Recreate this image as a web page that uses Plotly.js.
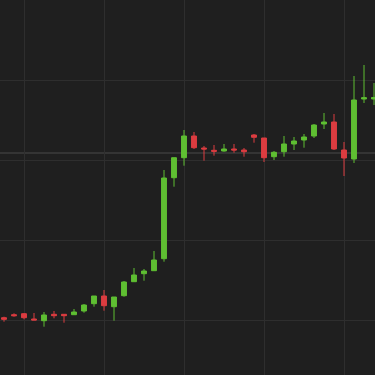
<!DOCTYPE html>
<html>
<head>
<meta charset="utf-8">
<script src="https://cdn.plot.ly/plotly-3.0.1.min.js"></script>
<style>
html,body{margin:0;padding:0;background:#1f1f1f;}
#chart{width:375px;height:375px;}
</style>
</head>
<body>
<div id="chart"></div>
<script>
var idx = [];
for (var i = 0; i < 38; i++) idx.push(i);
var open  = [82.3,85.3,86.3,81,79.3,85.7,85.7,85.3,89,96.3,104,93.3,104.3,118.3,126.3,129.3,141.3,222.3,242.3,264,252,249.7,249,251,250,265,262,243.3,248.3,256,260,264,276,278,250,241,301,301];
var high  = [83.3,86.7,87,87,88,89,85.7,91,96,104,110,103,119,132,131,149,230,242.3,270,268,254,255,256,256,252,266,262,249,264,263,266,276,287,286,258,324,335,317];
var low   = [78.3,83.3,80.7,80,73.3,81.7,77.3,85.3,87.3,93.3,89.3,79.3,103.3,118.3,119.3,129.3,138.3,213.3,234.3,251,239.3,244.3,248.3,247.3,243.3,257.3,238,240,243.3,250,252.3,262,271,250,224,237,297,295];
var close = [80.7,84.3,82.3,80,85,84.3,84.3,88,95,104,94.3,103,118,125,129,140,222,242.3,264,252.3,251,248.7,251,250,248.3,262.7,242.3,247.7,256,259,263,275,278,251,242,300,302.3,302.5];
var priceLine = 247;

var trace = {
  type: 'candlestick',
  x: idx, open: open, high: high, low: low, close: close,
  increasing: {line: {color: '#5fbf32', width: 1}, fillcolor: '#5fbf32'},
  decreasing: {line: {color: '#dc3c40', width: 1}, fillcolor: '#dc3c40'},
  hoverinfo: 'none'
};

var layout = {
  width: 375, height: 375,
  margin: {l:0, r:0, t:0, b:0, pad:0},
  paper_bgcolor: '#1f1f1f',
  plot_bgcolor: '#1f1f1f',
  showlegend: false,
  xaxis: {
    range: [-0.4, 37.1], tick0: 2, dtick: 8, showgrid: true,
    gridcolor: '#2e2e2e', gridwidth: 1, zeroline: false,
    showticklabels: false, ticks: '', rangeslider: {visible: false},
    showline: false, fixedrange: true
  },
  yaxis: {
    range: [25, 400], tick0: 0, dtick: 80, showgrid: true,
    gridcolor: '#2e2e2e', gridwidth: 1, zeroline: false,
    showticklabels: false, ticks: '', showline: false, fixedrange: true
  },
  shapes: [{
    type: 'line', xref: 'paper', x0: 0, x1: 1, yref: 'y', y0: priceLine, y1: priceLine,
    line: {color: '#4a4a4a', width: 1}, layer: 'below'
  }]
};

Plotly.newPlot('chart', [trace], layout, {displayModeBar: false, staticPlot: true});
</script>
</body>
</html>
